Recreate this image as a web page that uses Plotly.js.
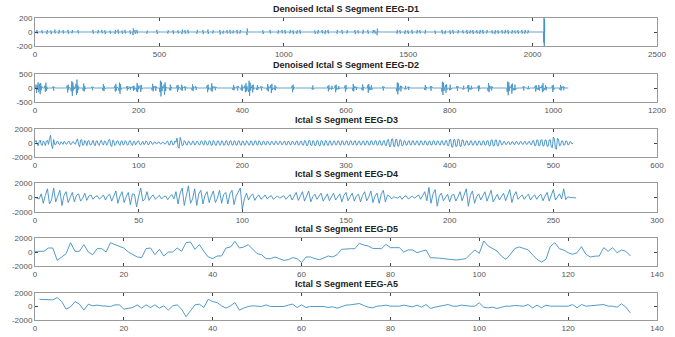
<!DOCTYPE html>
<html><head><meta charset="utf-8">
<script src="https://cdn.plot.ly/plotly-3.0.1.min.js"></script>
<style>html,body{margin:0;padding:0;background:#fff}#chart{width:675px;height:337px}</style>
</head><body><div id="chart"></div>
<script>
// ---------- DATA ----------
const titles = ["Denoised Ictal S Segment EEG-D1","Denoised Ictal S Segment EEG-D2","Ictal S Segment EEG-D3","Ictal S Segment EEG-D4","Ictal S Segment EEG-D5","Ictal S Segment EEG-A5"];
const xTicks = [[0,500,1000,1500,2000,2500],[0,200,400,600,800,1000,1200],[0,100,200,300,400,500,600],[0,50,100,150,200,250,300],[0,20,40,60,80,100,120,140],[0,20,40,60,80,100,120,140]];
const yTicks = [[-200,0,200],[-500,0,500],[-2000,0,2000],[-2000,0,2000],[-2000,0,2000],[-2000,0,2000]];
const yTickText = [["-200","0","200"],["-500","0","500"],["-2000","0","2000"],["-2000","0","2000"],["-2000","0","2000"],["-2000","0","2000"]];

// D1: denoised detail (zero except small spikes)
const d1Length = 2050;
const d1Start = [8,28,48,64,80,96,113,133,149,173,233,253,269,281,302,322,334,350,362,382,394,402,410,450,490,534,555,575,591,603,615,651,675,695,715,743,756,772,784,796,812,824,852,916,945,977,993,1005,1025,1037,1053,1065,1125,1137,1154,1166,1178,1214,1234,1254,1286,1298,1318,1338,1358,1366,1375,1455,1467,1487,1499,1515,1535,1547,1568,1608,1636,1648,1668,1680,1700,1720,1736,1748,1760,1776,1788,1800,1816,1837,1849,1861,1877,1889,1901,1917,1929,1941,1957,1969,1981,2045];
const d1Burst = [[30,-25],[25,-20],[-30,28],[22,-30],[35,-20],[-25,30],[28,-22],[30,-25],[-20,28],[25,-20],[30,-25],[-22,28],[30,-18],[25,-30],[20,-25],[-28,30],[35,-25],[22,-28],[30,-20],[25,-30],[-45,50,-20],[28,-25],[30,-22],[-25,20],[30,-28],[-22,25],[28,-30],[25,-20],[-30,35],[28,-25],[30,-22],[-25,30],[28,-30],[35,-28],[-22,25],[30,-35],[-25,20],[28,-22],[30,-25],[-20,25],[30,-25],[-22,28],[-45,50,-30],[25,-28],[30,-22],[-25,28],[28,-20],[30,-25],[-22,28],[25,-30],[-28,25],[30,-25],[22,-28],[-25,30],[28,-20],[-30,25],[30,-22],[-25,28],[30,-28],[-22,25],[28,-30],[25,-20],[-28,30],[30,-25],[-20,28],[25,-22],[-45,50,-30],[-25,30],[28,-22],[-30,25],[25,-28],[30,-25],[-22,30],[28,-20],[-25,30],[22,-28],[30,-25],[-28,22],[25,-30],[30,-25],[-22,28],[25,-20],[30,-28],[-22,25],[28,-30],[25,-22],[-28,30],[30,-25],[-20,28],[25,-22],[-30,28],[25,-25],[28,-20],[-22,30],[30,-28],[-25,25],[22,-20],[28,-25],[30,-22],[-25,28],[-20,25],[-150,260,-260,180]];

// D2: denoised detail bursts
const d2Length = 1030;
const d2Start = [2,8,19,35,62,70,79,93,110,131,154,162,177,183,189,196,203,226,232,241,249,260,274,282,289,303,310,332,340,347,382,390,398,405,412,419,428,436,448,455,462,496,535,565,572,579,585,598,613,619,631,642,648,671,698,705,714,720,752,763,785,792,800,814,826,835,841,855,874,880,911,919,925,942,951,965,971,978,984,998,1013,1019];
const d2Burst = [[120,-180,90,-60,200,-150],[-90,150,-220,180,-80,60],[80,-140,190,-100,50,-30],[60,-90,40],[90,-160,120,-60,30],[-120,240,-280,200,-90,60,-40],[150,-250,300,-180,90,-50,20],[-100,160,-120,70,-40],[50,-80,40],[-90,140,-110,60,-30],[80,-130,150,-90,40],[-110,190,-210,140,-60],[60,-90,70,-40],[50,-60,40],[70,-100,80,-60],[-120,180,-150,90,-40],[90,-140,110,-50],[-80,150,-120,60],[70,-100,50],[-150,260,-300,220,-120,50],[130,-240,200,-110,40],[-80,120,-90,40],[90,-140,110,-60,30],[-70,120,-100,50],[60,-90,40],[-80,130,-110,50],[60,-70,30],[90,-150,120,-60],[-100,170,-130,70],[50,-80,40],[-70,110,-80,40],[60,-90,70],[-80,120,-100,50],[90,-150,170,-120,60],[-140,260,-280,190,-90,40],[100,-160,120,-50],[-70,100,-60,30],[60,-90,50],[-80,140,-120,60],[110,-180,150,-70],[-60,100,-80,40],[80,-150,120,-60,30],[-60,90,-50],[70,-120,100,-50],[-60,80,-40],[90,-150,120,-60],[-50,70,-30],[80,-130,110,-50],[-90,140,-120,60],[50,-70,30],[-80,130,-90,40],[100,-170,140,-80,40],[-70,100,-60],[60,-90,50],[-120,200,-230,170,-90],[80,-120,70],[-60,80,-40],[50,-70,40],[-70,110,-80,40],[60,-100,70],[-130,220,-250,190,-100],[110,-170,130,-60],[-80,120,-70],[70,-100,60],[-60,80,-40],[90,-140,100,-50],[-60,80,-40],[80,-120,90,-40],[-110,180,-150,80,-30],[60,-90,50],[-140,230,-260,200,-110,50],[120,-200,160,-90],[-80,120,-70],[60,-90,50],[-50,70,-40],[80,-130,100,-50],[-70,110,-90,40],[90,-150,170,-110],[-60,100,-80,40],[90,-140,110,-60],[-70,110,-90,50],[60,-80,40]];

const d3 = [150,380,-100,-400,200,420,-250,-350,300,100,-380,250,400,-200,600,1100,-300,-800,500,-200,
-250,200,250,-150,-220,180,60,-200,230,120,-180,-100,200,240,-160,-220,120,200,-100,-180,
300,600,-200,-550,400,500,-350,-250,350,100,-380,300,350,-250,-300,200,380,-150,-400,250,
320,-200,-350,150,400,-100,-300,280,250,-320,-150,420,550,-300,-500,400,300,-350,-200,280,
320,-150,-350,250,300,-280,-200,350,150,-300,-250,300,320,-180,-350,200,250,-300,-100,280,
300,-200,-280,150,250,-220,-150,300,200,-250,-200,250,180,-150,-200,120,150,-130,-80,160,
120,-160,-90,140,100,-150,-120,200,280,-250,-300,320,250,-280,-200,300,100,700,-500,-750,
800,300,-400,-300,350,200,-280,-250,300,150,-250,-200,280,220,-300,-150,250,200,-220,-280,
250,300,-200,-300,350,150,-280,-250,320,250,-350,-300,380,200,-300,-320,300,280,-250,-300,
300,250,-320,-280,300,320,-250,-300,280,330,-280,-300,320,250,-300,-280,300,300,-250,-320,
280,260,-300,-250,320,200,-280,-300,300,250,-320,-260,280,300,-250,-300,320,200,-280,-260,
250,220,-240,-250,260,200,-230,-260,240,180,-200,-250,280,200,-220,-200,250,230,-240,-200,
220,260,-250,-280,230,200,-240,-260,250,200,-210,-240,260,280,-300,-250,230,260,-280,-300,
350,300,-380,-350,320,380,-300,-380,350,250,-400,-320,350,300,-380,-400,350,300,-280,-350,
320,300,-300,-330,300,280,-320,-260,250,300,-270,-260,300,270,-250,-300,320,260,-280,-230,
260,300,-270,-280,310,300,-260,-250,280,310,-300,-260,230,280,-290,-250,250,290,-280,-260,
300,260,-280,-290,310,290,-260,-230,300,330,-320,-260,300,330,-320,-300,300,330,-380,-350,
450,480,-520,-500,560,600,-470,-520,520,480,-460,-420,480,420,-400,-360,330,300,-320,-280,
280,300,-280,-270,310,300,-260,-250,290,280,-280,-290,310,270,-250,-270,300,260,-270,-290,
260,270,-290,-280,310,300,-260,-270,290,270,-250,-290,310,290,-260,-280,330,340,-360,-390,
450,520,-560,-600,500,480,-520,-460,540,500,-460,-480,440,420,-360,-320,300,290,-300,-260,
280,310,-300,-270,250,280,-300,-310,280,260,-290,-270,270,300,-310,-290,300,330,-380,-390,
410,440,-420,-390,430,420,-390,-400,360,320,-270,-220,190,210,-200,-190,160,190,-210,-190,
190,170,-190,-210,200,190,-170,-190,210,190,-160,-190,180,210,-200,-170,180,200,-210,-240,
300,340,-380,-390,410,440,-420,-360,440,480,-440,-390,440,420,-470,-460,420,480,-560,-680,
850,600,-800,-900,700,500,-400,-320,290,310,-300,-260,280,290,-270,-220,180,160,-120,-40];

const d4 = [0,-50,-200,500,-800,300,1200,-900,-300,1300,-600,200,1000,-1100,300,800,-700,0,700,-600,
300,500,-500,-100,600,-400,200,350,-250,100,250,-200,0,350,-350,200,450,-500,300,900,
-800,200,800,-700,100,700,-1000,500,400,-1300,200,1300,-500,-200,800,-400,100,350,-250,0,
300,-200,100,200,-300,100,400,-200,800,-900,600,1300,-1100,300,1600,-800,-200,1200,-1100,500,
1000,-900,300,800,-700,200,900,-700,-100,1000,-800,400,700,-900,500,1000,-1000,200,700,1300,
-1600,-200,600,-350,200,500,-400,100,350,-250,0,350,-200,100,250,-250,0,200,-100,100,
250,-250,100,400,-350,200,700,-400,100,800,-500,200,900,-600,100,450,-250,200,600,-500,
100,500,-450,200,600,-350,0,500,-600,300,700,-450,100,600,-500,200,450,-600,300,800,
-450,100,900,-700,200,600,-800,450,1000,-600,300,200,-200,100,0,-100,200,-250,100,250,
-200,0,200,-100,100,350,-250,300,800,-450,1400,-800,500,1100,-1200,200,600,-450,100,450,
-600,300,450,-500,100,800,-450,350,1200,-1200,300,900,-800,100,500,-350,200,800,-500,300,
1000,-600,-100,450,-350,100,600,-450,300,1100,-700,300,800,-250,100,350,-250,200,450,-350,
100,350,-250,200,450,-450,200,700,-500,450,1100,-350,100,500,-200,1200,-300,100,0,-50,0,-50];

const d5 = [100,100,100,570,570,-1190,-700,-240,1330,100,100,1050,0,-380,480,480,0,1330,1050,810,
570,0,-380,-710,-810,480,570,-380,380,-570,0,0,570,100,1330,1430,380,1050,100,-710,
-950,-570,-570,570,710,1520,570,710,1050,380,-240,-380,-950,-950,-710,-950,-1190,-1100,-810,-950,
-1520,-710,-710,-950,-1100,-860,-570,-710,-380,380,470,470,470,1240,1000,860,520,470,470,1100,
620,620,620,0,290,290,-100,100,290,-810,-810,-880,-950,-1050,-1100,-1140,-1050,-950,-300,290,
-190,1580,860,470,140,-600,-1050,-330,500,720,470,300,-400,-1050,-1430,-1050,800,1340,470,290,
-100,-330,-100,760,-330,-720,-600,-570,620,100,620,-100,290,100,-570];

const a5 = [1070,1070,1070,980,1320,730,-390,-50,730,340,-540,340,100,200,100,100,0,240,240,-390,
-290,-150,240,-240,240,-150,240,-240,100,-540,100,240,-390,-1510,-630,240,340,-150,1070,730,
590,100,-240,100,590,-540,-240,0,100,100,0,240,0,0,0,0,200,340,-150,240,
-150,0,0,0,0,-150,-50,-250,-50,200,250,390,440,150,-100,-200,50,100,200,50,
50,50,200,50,-50,200,-100,290,-290,-100,50,200,290,50,50,200,100,50,50,540,
-100,-200,-100,-290,-100,50,50,150,100,50,290,-200,200,-200,200,50,50,50,0,50,
290,-200,290,50,100,200,250,290,50,50,-100,390,-100,-950];

// ---------- BUILD ----------
const d1 = new Array(d1Length).fill(0);
d1Start.forEach((s,i)=>{ d1Burst[i].forEach((v,j)=>{ d1[s+j] = v; }); });
const d2 = new Array(d2Length).fill(0);
d2Start.forEach((s,i)=>{ d2Burst[i].forEach((v,j)=>{ d2[s+j] = v; }); });

const series = [d1,d2,d3,d4,d5,a5];
const starts = [0,0,0,0,0,1];
const boxTop = [18,74,129,183,238,293];
const boxBot = [46,102,157,212,266,320];
const H = 337, W = 675;
const xDom = [35/W, 657/W];

const traces = [];
const layout = {
  width: W, height: H, margin:{l:0,r:0,t:0,b:0},
  paper_bgcolor:'#fff', plot_bgcolor:'#fff', showlegend:false,
  annotations: []
};
const tf = {family:'Liberation Sans, Arial, sans-serif', size:8, color:'#555'};
series.forEach((s,k)=>{
  const n = k+1, sx = n===1?'':String(n);
  traces.push({type:'scatter', mode:'lines', x0: starts[k], dx:1, y:s,
    xaxis:'x'+sx, yaxis:'y'+sx,
    line:{color:'#3d8fc3', width: k<2?0.8:0.9}, hoverinfo:'skip'});
  const xr = [xTicks[k][0], xTicks[k][xTicks[k].length-1]];
  const common = {showline:true, linecolor:'#9a9a9a', linewidth:1, mirror:'ticks',
    ticks:'inside', ticklen:3, tickcolor:'#444', tickwidth:1,
    showgrid:false, zeroline:false, tickfont:tf, fixedrange:true};
  layout['xaxis'+sx] = Object.assign({}, common, {domain:xDom, range:xr,
    tickmode:'array', tickvals:xTicks[k], ticktext:xTicks[k].map(String),
    anchor:'y'+sx});
  layout['yaxis'+sx] = Object.assign({}, common, {
    domain:[1-boxBot[k]/H, 1-boxTop[k]/H], range:[yTicks[k][0], yTicks[k][2]],
    tickmode:'array', tickvals:yTicks[k], ticktext:yTickText[k], anchor:'x'+sx});
  layout.annotations.push({text:'<b>'+titles[k]+'</b>', xref:'paper', yref:'paper',
    x:(xDom[0]+xDom[1])/2, y:1-(boxTop[k]-2)/H, xanchor:'center', yanchor:'bottom',
    showarrow:false, font:{family:'Liberation Sans, Arial, sans-serif', size:9, color:'#222'}});
});
Plotly.newPlot('chart', traces, layout, {staticPlot:true, displayModeBar:false});
</script></body></html>
